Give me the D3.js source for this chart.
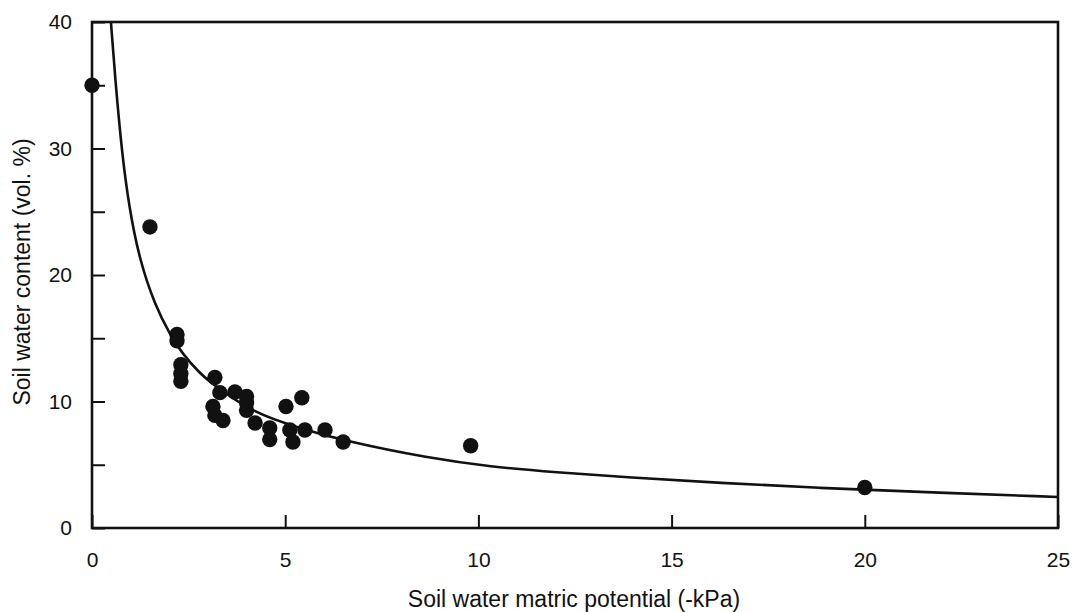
<!DOCTYPE html>
<html>
<head>
<meta charset="utf-8">
<script src="https://cdn.jsdelivr.net/npm/d3@7"></script>
<style>
  body { margin: 0; background: #fff; }
  svg text { font-family: "Liberation Sans", Arial, sans-serif; fill: #111; }
</style>
</head>
<body>
<svg id="chart" width="1072" height="612"></svg>
<script>
// Measured points: matric potential (-kPa) vs water content (vol. %)
const potential = [0, 1.5, 2.2, 2.2, 2.3, 2.3, 2.3, 3.18, 3.31, 3.13, 3.18, 3.39,
  3.7, 4.0, 4.0, 4.0, 4.22, 4.6, 4.6, 5.02, 5.43, 5.12, 5.2, 5.51, 6.03, 6.5, 9.8, 20];
const waterContent = [35.0, 23.8, 15.3, 14.8, 12.9, 12.2, 11.6, 11.9, 10.7, 9.6, 8.9, 8.5,
  10.75, 10.4, 9.9, 9.3, 8.3, 7.9, 7.0, 9.6, 10.3, 7.75, 6.8, 7.75, 7.75, 6.8, 6.5, 3.2];

// Fitted curve
const curveX = [0.49, 0.6, 0.78, 0.96, 1.22, 1.63, 2.02, 2.33, 2.8, 3.11, 4.17, 5.38,
  6.5, 8.75, 10.3, 12, 13.9, 16.25, 18.84, 21.43, 25];
const curveY = [40, 35.5, 29.5, 25.4, 21.3, 17.6, 15.3, 13.8, 12.2, 11.4, 9.1, 7.9,
  6.9, 5.5, 4.85, 4.4, 4.0, 3.56, 3.16, 2.85, 2.45];

const xTicks = [0, 5, 10, 15, 20, 25];
const yTicks = [0, 5, 10, 15, 20, 25, 30, 35, 40];

const svg = d3.select("#chart");
const plotLeft = 92, plotRight = 1058, plotTop = 22, plotBottom = 528;

const x = d3.scaleLinear().domain([0, 25]).range([plotLeft, plotRight]);
const y = d3.scaleLinear().domain([0, 40]).range([plotBottom, plotTop]);

svg.append("defs").append("clipPath").attr("id", "plot")
  .append("rect")
  .attr("x", plotLeft).attr("y", plotTop)
  .attr("width", plotRight - plotLeft).attr("height", plotBottom - plotTop);

// axes with inward ticks
const gx = svg.append("g")
  .attr("transform", `translate(0,${plotBottom})`)
  .call(d3.axisBottom(x).tickValues(xTicks).tickSizeInner(-13).tickSizeOuter(0).tickPadding(24));
const gy = svg.append("g")
  .attr("transform", `translate(${plotLeft},0)`)
  .call(d3.axisLeft(y).tickValues(yTicks).tickSizeInner(-13).tickSizeOuter(0).tickPadding(20)
    .tickFormat(d => (d % 10 === 0 ? d : "")));

[gx, gy].forEach(g => {
  g.select(".domain").remove();
  g.selectAll(".tick line").attr("stroke", "#111").attr("stroke-width", 2);
  g.selectAll(".tick text").style("font-size", "21px");
});

// curve
const line = d3.line()
  .x((d, i) => x(curveX[i]))
  .y(d => y(d))
  .curve(d3.curveBasis);

svg.append("path")
  .datum(curveY)
  .attr("clip-path", "url(#plot)")
  .attr("fill", "none")
  .attr("stroke", "#111")
  .attr("stroke-width", 2.6)
  .attr("d", line);

// points
svg.append("g")
  .selectAll("circle")
  .data(potential)
  .enter()
  .append("circle")
  .attr("cx", d => x(d))
  .attr("cy", (d, i) => y(waterContent[i]))
  .attr("r", 7.7)
  .attr("fill", "#111");

// frame
svg.append("rect")
  .attr("x", plotLeft).attr("y", plotTop)
  .attr("width", plotRight - plotLeft).attr("height", plotBottom - plotTop)
  .attr("fill", "none")
  .attr("stroke", "#111")
  .attr("stroke-width", 2.6);

// axis titles
svg.append("text")
  .attr("x", 574).attr("y", 607)
  .attr("text-anchor", "middle")
  .style("font-size", "23px")
  .text("Soil water matric potential (-kPa)");

svg.append("text")
  .attr("transform", "translate(30,272) rotate(-90)")
  .attr("text-anchor", "middle")
  .style("font-size", "23px")
  .text("Soil water content (vol. %)");
</script>
</body>
</html>
